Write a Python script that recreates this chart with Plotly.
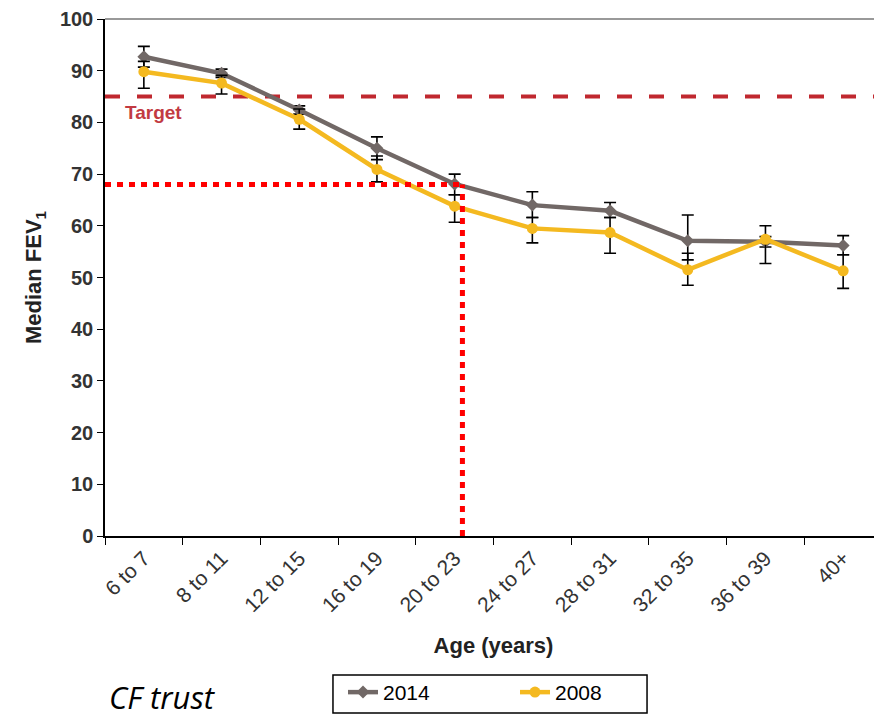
import plotly.graph_objects as go

age_groups = ['6 to 7', '8 to 11', '12 to 15', '16 to 19', '20 to 23',
              '24 to 27', '28 to 31', '32 to 35', '36 to 39', '40+']

fev_2014 = [92.7, 89.5, 82.4, 75.0, 68.1, 64.0, 62.9, 57.1, 56.9, 56.2]
err_up_2014 = [2.0, 0.8, 0.8, 2.2, 1.9, 2.6, 1.6, 5.0, 1.0, 1.9]
err_down_2014 = [2.0, 0.8, 0.8, 2.2, 2.1, 2.4, 1.3, 3.7, 1.0, 1.8]

fev_2008 = [89.8, 87.6, 80.6, 70.9, 63.8, 59.5, 58.7, 51.5, 57.4, 51.3]
err_up_2008 = [2.0, 1.5, 2.0, 2.6, 2.2, 2.1, 2.9, 3.2, 2.6, 3.1]
err_down_2008 = [3.2, 2.1, 1.9, 2.4, 3.1, 2.8, 4.0, 3.0, 4.7, 3.4]

target = 85
marker_value = 68
marker_pos = 4.1

GREY = '#716866'
GOLD = '#F4B920'
FONT = 'Liberation Sans, Arial, sans-serif'

fig = go.Figure()

fig.add_trace(go.Scatter(
    x=age_groups, y=fev_2014, name='2014', mode='lines+markers',
    line=dict(color=GREY, width=4.5),
    marker=dict(symbol='diamond', size=10, color=GREY),
    error_y=dict(type='data', symmetric=False, array=err_up_2014,
                 arrayminus=err_down_2014, color='black', thickness=1.6, width=6),
))
fig.add_trace(go.Scatter(
    x=age_groups, y=fev_2008, name='2008', mode='lines+markers',
    line=dict(color=GOLD, width=4.5),
    marker=dict(symbol='circle', size=11, color=GOLD),
    error_y=dict(type='data', symmetric=False, array=err_up_2008,
                 arrayminus=err_down_2008, color='black', thickness=1.6, width=6),
))

# target line
fig.add_shape(type='line', xref='paper', x0=0, x1=1, y0=target, y1=target,
              line=dict(color='#C0282F', width=4, dash='15px,17px'), layer='below')
fig.add_annotation(x=0.063, xref='paper', xanchor='center', y=target, yanchor='top',
                   yshift=-3, text='<b>Target</b>', showarrow=False,
                   font=dict(color='#C23A42', size=19, family=FONT))

# red dotted guide lines
fig.add_shape(type='line', x0=-0.5, x1=marker_pos, y0=marker_value, y1=marker_value,
              line=dict(color='#FF0000', width=5, dash='6px,6px'))
fig.add_shape(type='line', x0=marker_pos, x1=marker_pos, y0=0, y1=marker_value,
              line=dict(color='#FF0000', width=5, dash='6px,6px'))

# top frame line
fig.add_shape(type='line', xref='paper', yref='paper', x0=0, x1=1, y0=1, y1=1,
              line=dict(color='#999999', width=2))

# legend frame
fig.add_shape(type='rect', xref='paper', yref='paper', x0=0.2934, x1=0.6976,
              y0=-0.2689, y1=-0.3424, line=dict(color='black', width=1.5))

fig.add_annotation(x=0.003, xref='paper', xanchor='left', y=-0.311, yref='paper',
                   yanchor='middle', text='<i>CF trust</i>', showarrow=False,
                   font=dict(size=31, family='Open Sans', color='black'))

fig.update_layout(
    width=874, height=712,
    margin=dict(l=97, r=0, t=11, b=184),
    paper_bgcolor='white', plot_bgcolor='white',
    font=dict(family=FONT, color='#222222'),
    showlegend=True,
    legend=dict(orientation='h', x=0.3063, y=-0.263, xanchor='left', yanchor='top',
                bgcolor='rgba(0,0,0,0)', entrywidth=127,
                font=dict(size=21, color='black')),
    xaxis=dict(
        type='category', range=[-0.5, 9.5], tickangle=-45,
        showline=True, linecolor='black', linewidth=1.5,
        ticks='outside', tickson='boundaries', ticklen=7, tickcolor='black',
        tickfont=dict(size=21, color='#333333'),
        title=dict(text='<b>Age (years)</b>', font=dict(size=22), standoff=22),
        showgrid=False,
    ),
    yaxis=dict(
        range=[0, 100], dtick=10, showline=True, linecolor='black', linewidth=1.5,
        ticks='outside', ticklen=6, tickcolor='black',
        tickfont=dict(size=20, color='#333333'),
        tickprefix='<b>', ticksuffix='</b>',
        title=dict(text='<b>Median FEV<sub>1</sub></b>', font=dict(size=22), standoff=12),
        showgrid=False, zeroline=False,
    ),
)

fig.write_html('out.html')
